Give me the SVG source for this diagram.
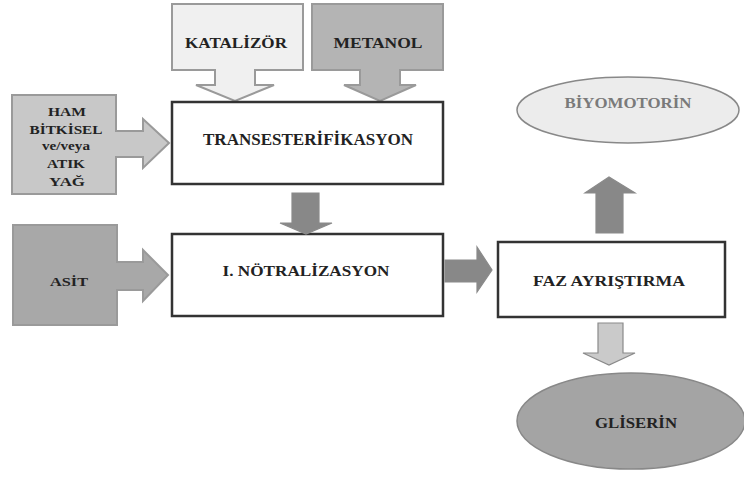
<svg xmlns="http://www.w3.org/2000/svg" width="744" height="477" viewBox="0 0 744 477">
<style>
text{font-family:"Liberation Serif","Times New Roman",serif;font-weight:bold;fill:#222;text-anchor:middle;dominant-baseline:central}
.src{stroke:#9a9a9a;stroke-width:2}
.box{fill:#fff;stroke:#333;stroke-width:2.5}
.arr{stroke:#8a8a8a;stroke-width:1.2}
.ell{stroke:#888;stroke-width:1.5}
</style>
<rect width="744" height="477" fill="#fff"/>
<g id="katalizor">
<path class="src" fill="#f0f0f0" d="M172,4 H303 V70 H255 V85 H274 L235,101 L196,85 H215 V70 H172 Z"/>
<text x="236" y="43" font-size="15" textLength="102" lengthAdjust="spacingAndGlyphs">KATALİZÖR</text>
</g>
<g id="metanol">
<path class="src" fill="#b4b4b4" d="M312,4 H443 V70 H400 V85 H416 L380,101 L344,85 H360 V70 H312 Z"/>
<text x="378" y="43" font-size="15" textLength="89" lengthAdjust="spacingAndGlyphs">METANOL</text>
</g>
<g id="ham">
<path class="src" fill="#c8c8c8" d="M12,95 H116 V131 H143 V119 L169,143 L143,168 V157 H116 V194 H12 Z"/>
<text x="67" y="111" font-size="13" textLength="38" lengthAdjust="spacingAndGlyphs">HAM</text>
<text x="66" y="129" font-size="13" textLength="73" lengthAdjust="spacingAndGlyphs">BİTKİSEL</text>
<text x="66" y="146" font-size="12" textLength="48" lengthAdjust="spacingAndGlyphs">ve/veya</text>
<text x="66" y="163" font-size="13" textLength="38" lengthAdjust="spacingAndGlyphs">ATIK</text>
<text x="67" y="181" font-size="13" textLength="36" lengthAdjust="spacingAndGlyphs">YAĞ</text>
</g>
<g id="asit">
<path class="src" fill="#a8a8a8" d="M13,225 H117 V262 H143 V250 L168,275 L143,301 V290 H117 V325 H13 Z"/>
<text x="69" y="281" font-size="13" textLength="38" lengthAdjust="spacingAndGlyphs">ASİT</text>
</g>
<g id="transesterifikasyon">
<rect class="box" x="172" y="102" width="271" height="82"/>
<text x="308" y="139" font-size="16" textLength="210" lengthAdjust="spacingAndGlyphs">TRANSESTERİFİKASYON</text>
</g>
<g id="notralizasyon">
<rect class="box" x="172" y="234" width="271" height="82"/>
<text x="306" y="271" font-size="15" textLength="167" lengthAdjust="spacingAndGlyphs">I. NÖTRALİZASYON</text>
</g>
<g id="faz">
<rect class="box" x="498" y="242" width="227" height="75"/>
<text x="609" y="281" font-size="14" textLength="152" lengthAdjust="spacingAndGlyphs">FAZ AYRIŞTIRMA</text>
</g>
<g id="biyomotorin">
<ellipse class="ell" fill="#ececec" cx="628" cy="110" rx="111" ry="33"/>
<text x="628" y="103" font-size="14" textLength="127" lengthAdjust="spacingAndGlyphs" style="fill:#7a7a7a">BİYOMOTORİN</text>
</g>
<g id="gliserin">
<ellipse class="ell" fill="#a4a4a4" cx="631" cy="421" rx="114" ry="48"/>
<text x="636" y="423" font-size="14" textLength="82" lengthAdjust="spacingAndGlyphs">GLİSERİN</text>
</g>
<g id="connectors">
<path class="arr" fill="#888" d="M292,193 H319 V223 H332 L306,234 L280,223 H292 Z"/>
<path class="arr" fill="#888" d="M445,260 H477 V247 L492,270 L477,292 V282 H445 Z"/>
<path class="arr" fill="#888" d="M596,233 V193 H585 L609,177 L635,193 H623 V233 Z"/>
<path class="arr" fill="#cacaca" d="M598,323 H623 V353 H635 L609,365 L583,353 H598 Z"/>
</g>
</svg>
